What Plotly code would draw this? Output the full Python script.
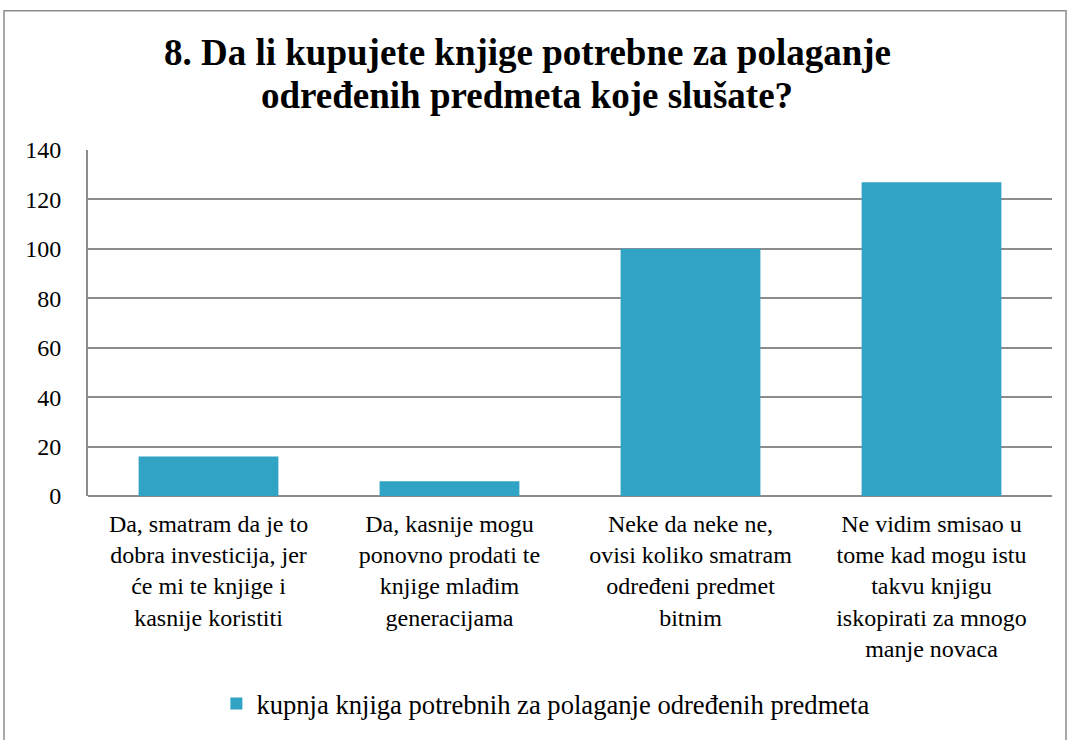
import plotly.graph_objects as go

categories = [
    "Da, smatram da je to<br>dobra investicija, jer<br>će mi te knjige i<br>kasnije koristiti",
    "Da, kasnije mogu<br>ponovno prodati te<br>knjige mlađim<br>generacijama",
    "Neke da neke ne,<br>ovisi koliko smatram<br>određeni predmet<br>bitnim",
    "Ne vidim smisao u<br>tome kad mogu istu<br>takvu knjigu<br>iskopirati za mnogo<br>manje novaca",
]
values = [16, 6, 100, 127]
series_name = "kupnja knjiga potrebnih za polaganje određenih predmeta"
title_lines = ["8. Da li kupujete knjige potrebne za polaganje",
               "određenih predmeta koje slušate?"]
y_ticks = [0, 20, 40, 60, 80, 100, 120, 140]

FONT = "Times New Roman, Liberation Serif, serif"

fig = go.Figure()
fig.add_trace(go.Bar(
    x=list(range(len(categories))),
    y=values,
    name=series_name,
    marker=dict(color="#31a3c4", line=dict(width=0)),
    showlegend=True,
))

fig.update_layout(
    width=1069, height=740,
    margin=dict(l=88, r=17, t=150, b=242),
    paper_bgcolor="white", plot_bgcolor="white",
    font=dict(family=FONT, size=24, color="black"),
    bargap=0.42,
    legend=dict(orientation="h", x=0.475, xanchor="center", y=-0.6, yanchor="middle",
                font=dict(family=FONT, size=26.6), itemwidth=30),
    xaxis=dict(tickmode="array", tickvals=list(range(len(categories))), ticktext=categories,
               range=[-0.5, 3.5], showgrid=False, showline=False, ticks="",
               ticklabelstandoff=11,
               tickfont=dict(family=FONT, size=24), tickangle=0),
    yaxis=dict(range=[0, 140], tickvals=y_ticks, showgrid=True, gridcolor="#8c8c8c",
               gridwidth=2, showline=True, linecolor="#8c8c8c", linewidth=2,
               zeroline=True, zerolinecolor="#8c8c8c", zerolinewidth=2,
               ticks="", ticklabelstandoff=20, tickfont=dict(family=FONT, size=24)),
)

# title lines
for line, ypix in zip(title_lines, [52, 95]):
    fig.add_annotation(text=line, xref="paper", yref="paper",
                       x=(527-88)/964, y=(498-ypix)/348, xanchor="center", yanchor="middle",
                       showarrow=False,
                       font=dict(family=FONT, size=37, color="black", weight="bold"))

# outer chart frame
fig.add_shape(type="rect", xref="paper", yref="paper",
              x0=(4-88)/964, x1=(1066-88)/964, y0=(498-745)/348, y1=(498-10)/348,
              line=dict(color="#8c8c8c", width=1.5), fillcolor="rgba(0,0,0,0)", layer="below")

fig.write_html("out.html", config={"displayModeBar": False},
               post_script="document.body.style.margin='0';")
